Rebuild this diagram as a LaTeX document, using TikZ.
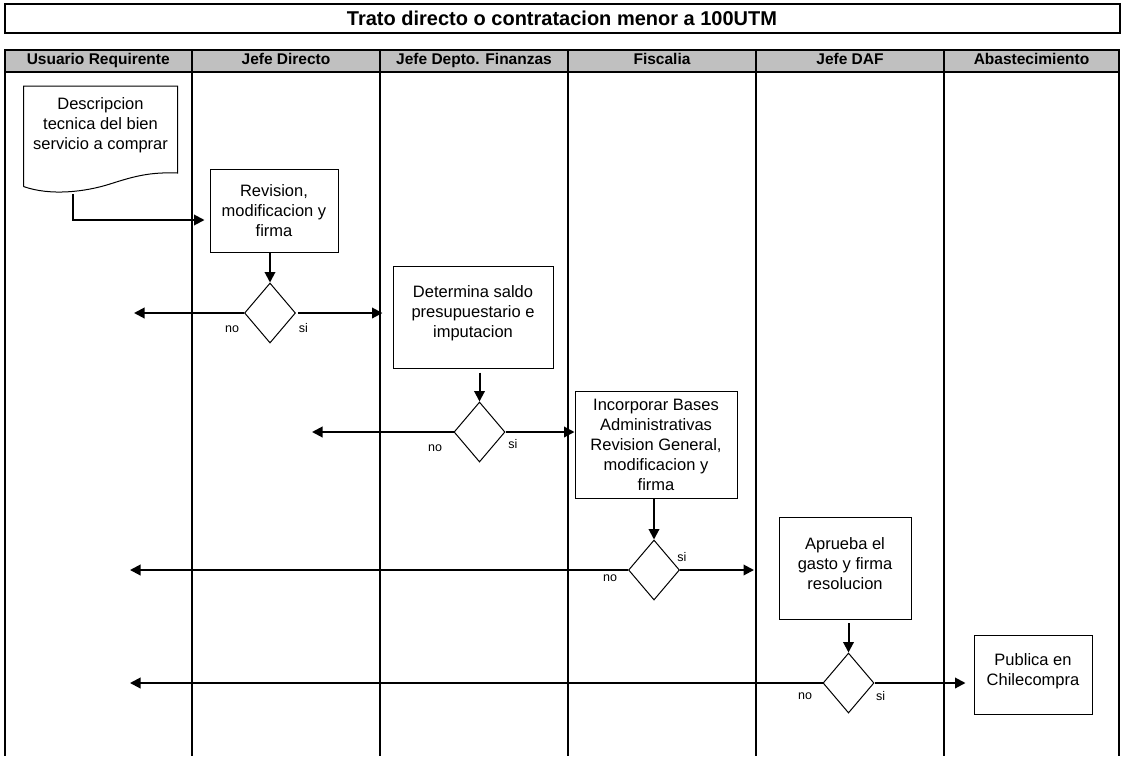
\documentclass[tikz,border=0pt]{standalone}
\usepackage{fontspec}
\setmainfont{Liberation Sans}
\usetikzlibrary{shapes.geometric,arrows.meta}

\definecolor{gris}{HTML}{C0C0C0}
\tikzset{
	caja/.style={draw,line width=1pt,align=center,inner sep=0pt,font=\fontsize{16.5}{20}\selectfont},
	decision/.style={draw,diamond,line width=1pt,minimum width=51pt,minimum height=60pt,inner sep=0pt},
	rotulo/.style={inner sep=0pt,font=\fontsize{12.5}{14}\selectfont},
	cabecera/.style={draw,line width=2pt,fill=gris,inner sep=0pt,minimum height=22.5pt,text height=11pt,text depth=3pt,font=\bfseries\fontsize{15.5}{18}\selectfont},
	flecha/.style={-{Triangle[length=10.5pt,width=10.5pt]},line width=2pt}
}

\begin{document}
\begin{tikzpicture}[x=1pt,y=-1pt]
			\useasboundingbox (0,0) rectangle (1123,756);

			% titulo y carriles
			\node[draw,line width=2pt,minimum width=1115pt,minimum height=28.7pt,inner sep=0pt,font=\bfseries\fontsize{20}{24}\selectfont] (titulo) at (562,18.6) {Trato directo o contratacion menor a 100UTM};
			\foreach \a/\b/\t [count=\i] in {4.5/192/Usuario Requirente,192/380/Jefe Directo,380/568/Jefe Depto. Finanzas,568/756/Fiscalia,756/944/Jefe DAF,944/1119/Abastecimiento}{
				\node[cabecera,minimum width=(\b-\a)*1pt] (h\i) at ({(\a+\b)/2},60.75) {\t};
				\draw[line width=2pt] (\a,72) -- (\a,756);
			}
			\draw[line width=2pt] (1119,72) -- (1119,756);

			% documento inicial
			\node[caja,draw=none] (desc) at (100.5,125) {Descripcion\\tecnica del bien\\servicio a comprar};
			\draw[line width=1pt] (23.5,186.5) -- (23.5,86) -- (177.5,86) -- (177.5,173) .. controls (150,172) and (135,176) .. (110,184) .. controls (85,192) and (50,196) .. (23.5,186.5);
			\coordinate (descpie) at (73,194);

			% pasos
			\node[caja,minimum width=128pt,minimum height=83pt] (rev) at (274,210.5) {Revision,\\modificacion y\\firma};
			\node[caja,minimum width=160pt,minimum height=102pt] (det) at (473,317) {Determina saldo\\presupuestario e\\imputacion\\[-10pt]};
			\node[caja,minimum width=162pt,minimum height=107pt] (inc) at (656,444.5) {Incorporar Bases\\Administrativas\\Revision General,\\modificacion y\\firma};
			\node[caja,minimum width=132pt,minimum height=102pt] (apr) at (845,568.5) {Aprueba el\\gasto y firma\\resolucion\\[-10pt]};
			\node[caja,minimum width=118pt,minimum height=79pt] (pub) at (1033,674.5) {Publica en\\Chilecompra\\[-10pt]};

			% decisiones
			\node[decision] (d1) at (270,313) {};
			\node[decision] (d2) at (479.5,432) {};
			\node[decision] (d3) at (654,570) {};
			\node[decision] (d4) at (848.5,683) {};

			\node[rotulo] (no1) at (232,329) {no};
			\node[rotulo] (si1) at (303.5,328) {si};
			\node[rotulo] (no2) at (435,448) {no};
			\node[rotulo] (si2) at (513,444) {si};
			\node[rotulo] (no3) at (610,578) {no};
			\node[rotulo] (si3) at (682,557) {si};
			\node[rotulo] (no4) at (805,696) {no};
			\node[rotulo] (si4) at (880.5,696) {si};

			% retornos
			\coordinate (ret1) at (134,313);
			\coordinate (ret2) at (312,432);
			\coordinate (ret3) at (130,570);
			\coordinate (ret4) at (130,683);
			\coordinate (fin3) at (754,570);

			% flujo
			\begin{scope}[flecha]
			\draw[shorten >=5pt] (descpie) |- ([yshift=-9.5pt]rev.west);
			\draw (rev.south -| d1) -- (d1.north);
			\draw (d1.west) -- (ret1);
			\draw[shorten <=2pt,shorten >=10pt] (d1.east) -- (det.west |- d1);
			\draw[shorten <=4pt] (det.south -| d2) -- (d2.north);
			\draw (d2.west) -- (ret2);
			\draw (d2.east) -- (inc.west |- d2);
			\draw (inc.south -| d3) -- (d3.north);
			\draw (d3.west) -- (ret3);
			\draw (d3.east) -- (fin3);
			\draw[shorten <=3pt] (apr.south -| d4) -- (d4.north);
			\draw (d4.west) -- (ret4);
			\draw[shorten >=8pt] (d4.east) -- (pub.west |- d4);
			\end{scope}
\end{tikzpicture}
\end{document}
